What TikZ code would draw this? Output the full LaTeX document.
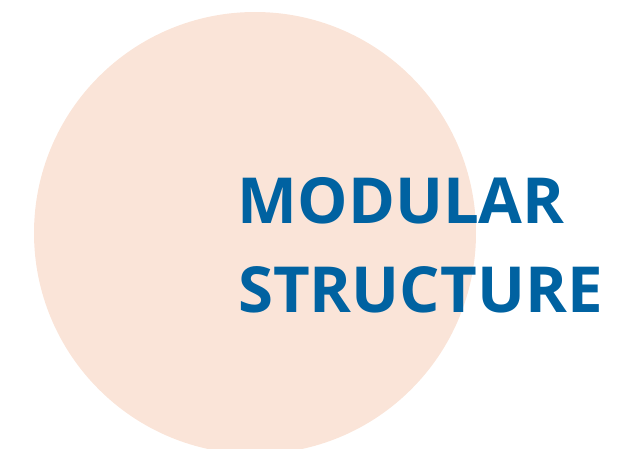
\documentclass[tikz,border=0pt]{standalone}
\usepackage{fontspec}
\setmainfont{Open Sans}
\usepackage{tikz,color}
\definecolor{peach}{HTML}{FAE4D8}
\definecolor{titleblue}{HTML}{0062A1}

\begin{document}
\begin{tikzpicture}[x=1pt, y=-1pt,
		title/.style={anchor=base west, inner sep=0pt, text=titleblue,
			font=\fontsize{63.5}{80}\selectfont\bfseries}]
\useasboundingbox (0,0) rectangle (625,449);
\clip (0,0) rectangle (625,449);
\fill [peach] (255,233) circle (221);

\node [title] (modular) at (237.5,224) {MODULAR};
\node [title] (structure) at (238,313) {STRUCTURE};

\end{tikzpicture}
\end{document}
